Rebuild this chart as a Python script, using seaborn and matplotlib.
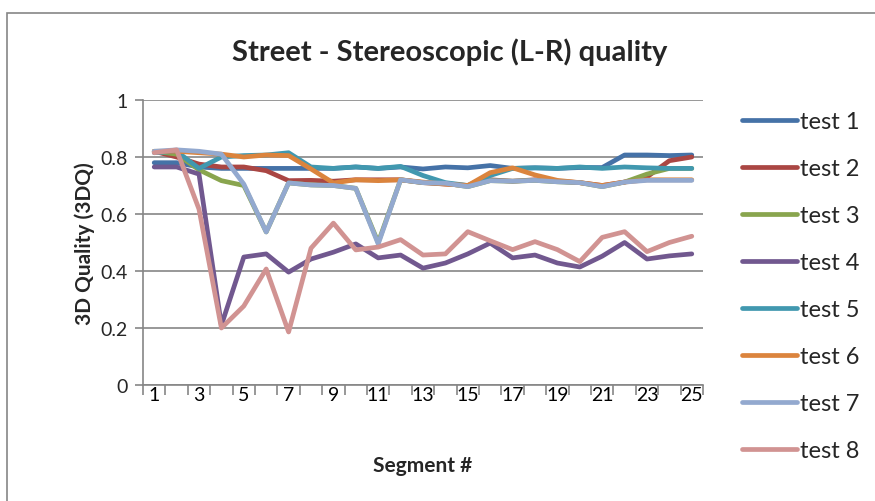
import numpy as np
import pandas as pd
import matplotlib
matplotlib.use("Agg")
import matplotlib.pyplot as plt
import seaborn as sns
from matplotlib.patches import Rectangle

# data
segments = list(range(1, 26))
test1 = [0.78, 0.78, 0.765, 0.76, 0.76, 0.76, 0.76, 0.76, 0.76, 0.765, 0.76, 0.765, 0.758,
         0.765, 0.762, 0.77, 0.76, 0.762, 0.76, 0.763, 0.763, 0.807, 0.807, 0.805, 0.807]
test2 = [0.82, 0.80, 0.775, 0.765, 0.765, 0.752, 0.717, 0.718, 0.715, 0.72, 0.72, 0.72, 0.71,
         0.705, 0.70, 0.72, 0.715, 0.72, 0.715, 0.71, 0.70, 0.712, 0.73, 0.787, 0.80]
test3 = [0.82, 0.81, 0.755, 0.717, 0.70, 0.537, 0.709, 0.702, 0.70, 0.69, 0.50, 0.72, 0.71,
         0.708, 0.696, 0.717, 0.715, 0.718, 0.713, 0.71, 0.696, 0.712, 0.74, 0.76, 0.76]
test4 = [0.765, 0.765, 0.74, 0.21, 0.449, 0.46, 0.396, 0.442, 0.466, 0.495, 0.446, 0.456, 0.41,
         0.428, 0.46, 0.498, 0.446, 0.456, 0.428, 0.414, 0.452, 0.50, 0.442, 0.453, 0.46]
test5 = [0.815, 0.82, 0.76, 0.80, 0.805, 0.807, 0.815, 0.765, 0.76, 0.765, 0.76, 0.767, 0.735,
         0.71, 0.70, 0.735, 0.76, 0.762, 0.76, 0.765, 0.76, 0.765, 0.762, 0.76, 0.76]
test6 = [0.82, 0.82, 0.815, 0.81, 0.80, 0.807, 0.805, 0.758, 0.709, 0.72, 0.717, 0.72, 0.712,
         0.705, 0.70, 0.745, 0.762, 0.737, 0.718, 0.71, 0.70, 0.712, 0.72, 0.72, 0.72]
test7 = [0.82, 0.825, 0.82, 0.81, 0.705, 0.537, 0.709, 0.702, 0.70, 0.69, 0.495, 0.72, 0.71,
         0.708, 0.696, 0.717, 0.715, 0.718, 0.713, 0.71, 0.696, 0.712, 0.718, 0.718, 0.718]
test8 = [0.815, 0.825, 0.617, 0.20, 0.277, 0.407, 0.186, 0.48, 0.568, 0.474, 0.484, 0.51, 0.456,
         0.46, 0.538, 0.506, 0.475, 0.503, 0.475, 0.433, 0.518, 0.538, 0.468, 0.50, 0.522]

series_names = ["test 1", "test 2", "test 3", "test 4", "test 5", "test 6", "test 7", "test 8"]
series_values = [test1, test2, test3, test4, test5, test6, test7, test8]
colors = ["#4572A7", "#AA4643", "#89A54E", "#71588F", "#4198AF", "#DB843D", "#93A9CF", "#D19392"]

y_ticks = [0, 0.2, 0.4, 0.6, 0.8, 1]
y_tick_labels = ["0", "0.2", "0.4", "0.6", "0.8", "1"]
x_tick_labels = [str(s) for s in segments if s % 2 == 1]

# long table for seaborn
df = pd.DataFrame({
    "segment": segments * len(series_names),
    "quality": sum(series_values, []),
    "test": np.repeat(series_names, len(segments)),
})

sns.set_style("white")
plt.rcParams["font.family"] = ["Lato", "DejaVu Sans"]

grey = "#868686"

fig = plt.figure(figsize=(8.75, 5.02), dpi=100)
ax = fig.add_axes([143 / 875, 1 - 386 / 502, 560 / 875, 285 / 502])

# outer chart border (top and left visible)
fig.patches.append(Rectangle((7 / 875, -0.1), 1.2, 1 - 14 / 502 + 0.1, transform=fig.transFigure,
                             fill=False, edgecolor=grey, linewidth=1.2))

sns.lineplot(data=df, x="segment", y="quality", hue="test", palette=colors,
             linewidth=3.4, ax=ax, legend=True)
for line in ax.get_lines():
    line.set_solid_capstyle("round")
    line.set_solid_joinstyle("round")

ax.set_xlim(0.5, 25.5)
ax.set_ylim(0, 1)
ax.set_yticks(y_ticks)
ax.set_yticklabels(y_tick_labels)
ax.set_xticks([s for s in segments if s % 2 == 1])
ax.set_xticklabels(x_tick_labels)
ax.set_xticks(np.arange(0.5, 26, 1), minor=True)
ax.tick_params(axis="x", which="major", length=0, labelsize=14, pad=1, colors="black")
ax.tick_params(axis="x", which="minor", length=7, width=1.2, color=grey, direction="out", bottom=True)
ax.tick_params(axis="y", length=6, width=1.2, color=grey, labelsize=14, direction="out", left=True, pad=5)

ax.grid(axis="y", color=grey, linewidth=1.2)
ax.grid(axis="x", visible=False)
for side in ["top", "right"]:
    ax.spines[side].set_visible(False)
for side in ["left", "bottom"]:
    ax.spines[side].set_color(grey)
    ax.spines[side].set_linewidth(1.2)

ax.set_title("Street - Stereoscopic (L-R) quality", fontsize=21, fontweight="bold", pad=29, x=0.548)
ax.set_xlabel("Segment #", fontsize=15, fontweight="bold")
ax.set_ylabel("3D Quality (3DQ)", fontsize=15, fontweight="bold")
ax.xaxis.set_label_coords(0.5, -0.245)
ax.yaxis.set_label_coords(-0.085, 0.5)

ax.legend(loc="upper left", bbox_to_anchor=(1.053, 0.994), frameon=False, fontsize=17,
          handlelength=2.33, handletextpad=0.13, labelspacing=1.1, borderaxespad=0)

fig.savefig("out.png", dpi=100)
